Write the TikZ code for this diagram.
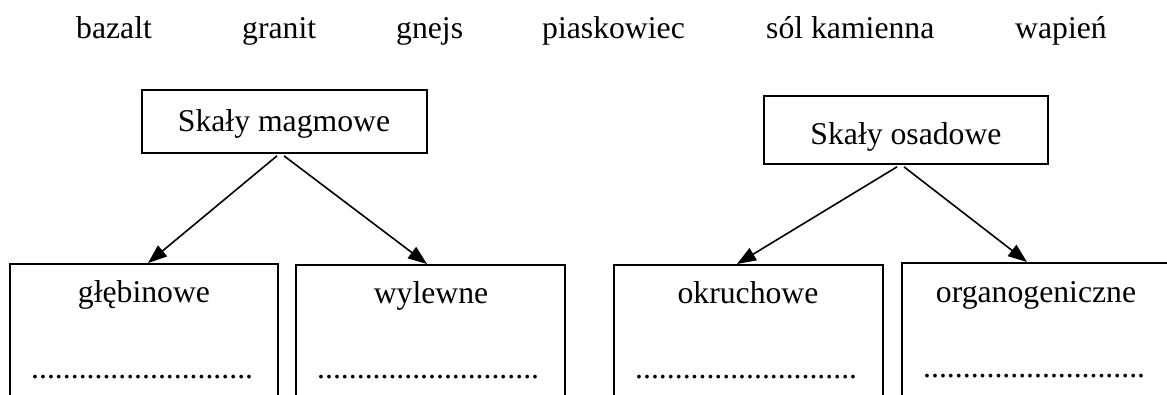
\documentclass[tikz,border=0pt]{standalone}
\usepackage{fontspec}
\setmainfont{Liberation Serif}
\usetikzlibrary{arrows.meta,calc}
\begin{document}
\begin{tikzpicture}[x=1pt,y=-1pt,
  every node/.style={font=\fontsize{31.7}{38}\selectfont, inner sep=0pt},
  word/.style={anchor=base west},
  lbl/.style={anchor=base},
  topbox/.style={draw, line width=1.7pt, minimum width=285pt, minimum height=63pt},
  subbox/.style={draw, line width=1.9pt, anchor=north, minimum width=268pt, minimum height=200pt},
  arr/.style={line width=1.6pt, -{Triangle[length=19pt,width=14pt]}},
  dotrow/.style={anchor=base west}]
\useasboundingbox (0,0) rectangle (1167,394);
\clip (0,0) rectangle (1167,394);
\fill[white] (0,0) rectangle (1167,394);

% word bank
\node[word] (w1) at (76,38) {bazalt};
\node[word] (w2) at (242,38) {granit};
\node[word] (w3) at (396,38) {gnejs};
\node[word] (w4) at (542,38) {piaskowiec};
\node[word] (w5) at (766,38) {sól kamienna};
\node[word] (w6) at (1015,38) {wapień};

% top boxes
\node[topbox] (magma) at (284.5,121.5) {};
\node[lbl] (magmat) at (284,131) {Skały magmowe};
\node[topbox, minimum width=284pt, minimum height=68pt] (osad) at (906,130) {};
\node[lbl] (osadt) at (906,144) {Skały osadowe};

% bottom boxes (open at the bottom edge)
\node[subbox] (gleb) at (144,263) {};
\node[subbox, minimum width=269pt] (wyl) at (430.5,264) {};
\node[subbox, minimum width=269pt] (okr) at (748.5,264) {};
\node[subbox, minimum width=276pt] (org) at (1040,262) {};

\node[lbl] (glebt) at (144,302) {głębinowe};
\node[lbl] (wylt) at (431,303) {wylewne};
\node[lbl] (okrt) at (748,303) {okruchowe};
\node[lbl] (orgt) at (1036,302) {organogeniczne};

\node[dotrow] (d1) at (31,378) {............................};
\node[dotrow] (d2) at (317,378) {............................};
\node[dotrow] (d3) at (635,378) {............................};
\node[dotrow] (d4) at (923,377) {............................};

% arrows
\draw[arr] ($(magma.south)+(-7.5,2)$) -- ($(gleb.north)+(4,0)$);
\draw[arr] ($(magma.south)+(-0.5,2)$) -- ($(wyl.north)+(-3.5,0)$);
\draw[arr] ($(osad.south)+(-9,2)$) -- ($(okr.north)+(-11.5,0)$);
\draw[arr] ($(osad.south)+(-2,2)$) -- ($(org.north)+(-13,0)$);
\end{tikzpicture}
\end{document}
